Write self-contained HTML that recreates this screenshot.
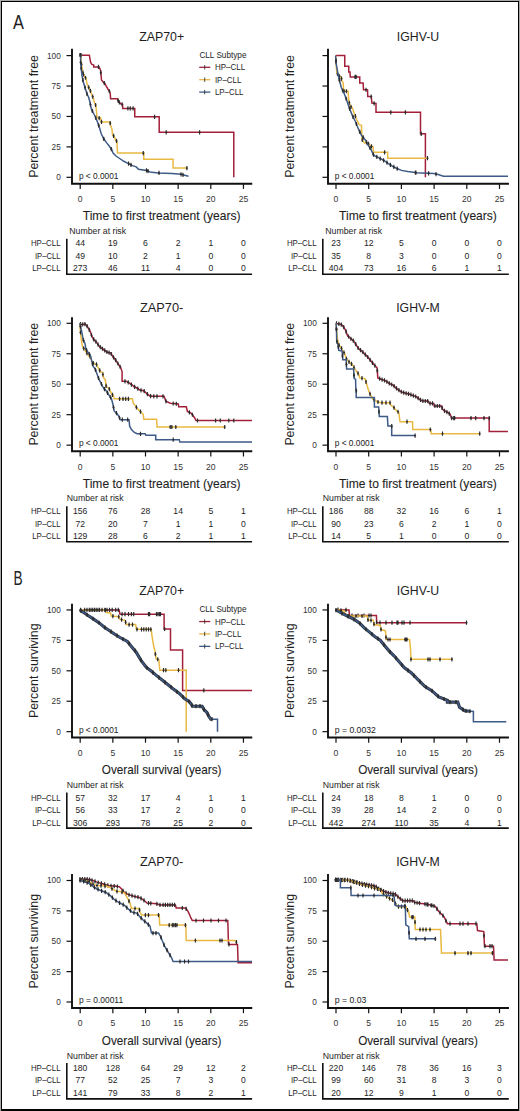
<!DOCTYPE html><html><head><meta charset="utf-8"><style>html,body{margin:0;padding:0;background:#fff;}svg{display:block;}</style></head><body>
<svg width="520" height="1111" viewBox="0 0 520 1111" font-family='"Liberation Sans", sans-serif'>
<rect x="0" y="0" width="520" height="1111" fill="#fff"/>
<rect x="0" y="0" width="520" height="1" fill="#a8a8a8"/><rect x="0" y="0" width="1" height="1111" fill="#a8a8a8"/><rect x="519" y="0" width="1" height="1111" fill="#a8a8a8"/>
<rect x="1" y="1" width="518" height="1" fill="#000"/><rect x="1" y="1" width="1" height="1110" fill="#000"/><rect x="518" y="1" width="1" height="1110" fill="#000"/><rect x="1" y="1109" width="518" height="2" fill="#000"/>
<text x="13.1" y="28.8" font-size="19.5" textLength="10.9" lengthAdjust="spacingAndGlyphs" fill="#1e1e1e">A</text>
<text x="13.6" y="584.8" font-size="19.5" textLength="9.1" lengthAdjust="spacingAndGlyphs" fill="#1e1e1e">B</text>
<text x="161.65" y="41.2" font-size="13.4" text-anchor="middle" textLength="45" lengthAdjust="spacingAndGlyphs" fill="#1e1e1e">ZAP70+</text>
<text transform="translate(38.3,116.45) rotate(-90)" font-size="13" text-anchor="middle" textLength="122.8" lengthAdjust="spacingAndGlyphs" fill="#1e1e1e">Percent treatment free</text>
<path d="M72,49.7 V183.7 H251.3" fill="none" stroke="#111" stroke-width="1.9" stroke-linejoin="miter" stroke-linecap="square"/>
<line x1="66.5" y1="177.3" x2="72" y2="177.3" stroke="#111" stroke-width="1.2"/>
<text x="60.8" y="180.2" font-size="8.3" text-anchor="end" fill="#333">0</text>
<line x1="66.5" y1="146.88" x2="72" y2="146.88" stroke="#111" stroke-width="1.2"/>
<text x="60.8" y="149.78" font-size="8.3" text-anchor="end" fill="#333">25</text>
<line x1="66.5" y1="116.45" x2="72" y2="116.45" stroke="#111" stroke-width="1.2"/>
<text x="60.8" y="119.35" font-size="8.3" text-anchor="end" fill="#333">50</text>
<line x1="66.5" y1="86.03" x2="72" y2="86.03" stroke="#111" stroke-width="1.2"/>
<text x="60.8" y="88.93" font-size="8.3" text-anchor="end" fill="#333">75</text>
<line x1="66.5" y1="55.6" x2="72" y2="55.6" stroke="#111" stroke-width="1.2"/>
<text x="60.8" y="58.5" font-size="8.3" text-anchor="end" fill="#333">100</text>
<line x1="80.2" y1="183.7" x2="80.2" y2="188.9" stroke="#111" stroke-width="1.2"/>
<text x="80.2" y="201.5" font-size="8.6" text-anchor="middle" fill="#333">0</text>
<line x1="112.85" y1="183.7" x2="112.85" y2="188.9" stroke="#111" stroke-width="1.2"/>
<text x="112.85" y="201.5" font-size="8.6" text-anchor="middle" fill="#333">5</text>
<line x1="145.5" y1="183.7" x2="145.5" y2="188.9" stroke="#111" stroke-width="1.2"/>
<text x="145.5" y="201.5" font-size="8.6" text-anchor="middle" fill="#333">10</text>
<line x1="178.15" y1="183.7" x2="178.15" y2="188.9" stroke="#111" stroke-width="1.2"/>
<text x="178.15" y="201.5" font-size="8.6" text-anchor="middle" fill="#333">15</text>
<line x1="210.8" y1="183.7" x2="210.8" y2="188.9" stroke="#111" stroke-width="1.2"/>
<text x="210.8" y="201.5" font-size="8.6" text-anchor="middle" fill="#333">20</text>
<line x1="243.45" y1="183.7" x2="243.45" y2="188.9" stroke="#111" stroke-width="1.2"/>
<text x="243.45" y="201.5" font-size="8.6" text-anchor="middle" fill="#333">25</text>
<text x="161.65" y="220" font-size="12.8" text-anchor="middle" textLength="157.8" lengthAdjust="spacingAndGlyphs" fill="#1e1e1e" stroke="#1e1e1e" stroke-width="0.1">Time to first treatment (years)</text>
<text x="78.9" y="178.6" font-size="9" textLength="39.6" lengthAdjust="spacingAndGlyphs" fill="#222">p &lt; 0.0001</text>
<text x="69.3" y="233.9" font-size="8.4" textLength="56.8" lengthAdjust="spacingAndGlyphs" fill="#1e1e1e">Number at risk</text>
<text x="60.5" y="246.2" font-size="8.6" text-anchor="end" textLength="29.6" lengthAdjust="spacingAndGlyphs" fill="#1e1e1e">HP–CLL</text>
<text x="80.2" y="246.2" font-size="8.6" text-anchor="middle" fill="#1e1e1e">44</text>
<text x="112.85" y="246.2" font-size="8.6" text-anchor="middle" fill="#1e1e1e">19</text>
<text x="145.5" y="246.2" font-size="8.6" text-anchor="middle" fill="#1e1e1e">6</text>
<text x="178.15" y="246.2" font-size="8.6" text-anchor="middle" fill="#1e1e1e">2</text>
<text x="210.8" y="246.2" font-size="8.6" text-anchor="middle" fill="#1e1e1e">1</text>
<text x="243.45" y="246.2" font-size="8.6" text-anchor="middle" fill="#1e1e1e">0</text>
<text x="60.5" y="258.5" font-size="8.6" text-anchor="end" textLength="25.6" lengthAdjust="spacingAndGlyphs" fill="#1e1e1e">IP–CLL</text>
<text x="80.2" y="258.5" font-size="8.6" text-anchor="middle" fill="#1e1e1e">49</text>
<text x="112.85" y="258.5" font-size="8.6" text-anchor="middle" fill="#1e1e1e">10</text>
<text x="145.5" y="258.5" font-size="8.6" text-anchor="middle" fill="#1e1e1e">2</text>
<text x="178.15" y="258.5" font-size="8.6" text-anchor="middle" fill="#1e1e1e">1</text>
<text x="210.8" y="258.5" font-size="8.6" text-anchor="middle" fill="#1e1e1e">0</text>
<text x="243.45" y="258.5" font-size="8.6" text-anchor="middle" fill="#1e1e1e">0</text>
<text x="60.5" y="271" font-size="8.6" text-anchor="end" textLength="28.3" lengthAdjust="spacingAndGlyphs" fill="#1e1e1e">LP–CLL</text>
<text x="80.2" y="271" font-size="8.6" text-anchor="middle" fill="#1e1e1e">273</text>
<text x="112.85" y="271" font-size="8.6" text-anchor="middle" fill="#1e1e1e">46</text>
<text x="145.5" y="271" font-size="8.6" text-anchor="middle" fill="#1e1e1e">11</text>
<text x="178.15" y="271" font-size="8.6" text-anchor="middle" fill="#1e1e1e">4</text>
<text x="210.8" y="271" font-size="8.6" text-anchor="middle" fill="#1e1e1e">0</text>
<text x="243.45" y="271" font-size="8.6" text-anchor="middle" fill="#1e1e1e">0</text>
<path d="M66.8,239.5 V274.2 H251.3" fill="none" stroke="#111" stroke-width="1.6" stroke-linecap="square"/>
<polyline points="80.6,55.3 89.4,55.3 89.75,57.5 90.6,62.5 91.9,64.4 93.75,65 93.75,66.9 98.75,66.9 100,68.75 100.6,70.6 101.5,80 103.1,81.9 105,83.75 106.25,86.25 107.75,88.75 109.4,91.25 110.25,93.1 110.6,98.75 117.5,98.75 118.1,100.6 119.4,102.5 120.6,103.75 122.5,104.4 122.75,108.4 134.75,108.4 134.75,116.85 159.2,116.85 159.2,132.3 233.8,132.3 233.8,177.3" fill="none" stroke="#a3203a" stroke-width="1.5" stroke-linejoin="miter"/>
<path d="M81.2,53.2v4.2M80.2,55.3h2M98.5,64.8v4.2M97.5,66.9h2M100.8,70.59v4.2M99.8,72.69h2M104.3,80.97v4.2M103.3,83.07h2M109.4,89.15v4.2M108.4,91.25h2M118.1,98.5v4.2M117.1,100.6h2M119.3,100.25v4.2M118.3,102.35h2M122.1,102.16v4.2M121.1,104.26h2M127.9,106.3v4.2M126.9,108.4h2M130.2,106.3v4.2M129.2,108.4h2M133.1,106.3v4.2M132.1,108.4h2M154.6,114.75v4.2M153.6,116.85h2M166.2,130.2v4.2M165.2,132.3h2M199.6,130.2v4.2M198.6,132.3h2" stroke="#2b2b2b" stroke-width="1.15" fill="none"/>
<polyline points="80.6,55 81.25,62.5 81.9,67.5 83.1,73.75 84.4,76.25 86.25,78.75 86.9,83.75 88.75,87.5 90.6,91.25 91.9,95 93.1,97.5 94.4,102.5 95.6,105 96.25,108.75 96.9,116.25 98.1,118.1 100.6,118.1 101.25,121.9 110,121.9 110.6,125.6 111.9,128.75 112.5,134.4 114.4,136.9 115.6,140 116.9,141.25 117.5,153.1 143.8,153.1 143.8,159.3 173.1,159.3 173.1,168.1 186.9,168.1" fill="none" stroke="#e9b943" stroke-width="1.5" stroke-linejoin="miter"/>
<path d="M80.2,52.9v4.2M79.2,55h2M81.5,62.32v4.2M80.5,64.42h2M82.9,70.61v4.2M81.9,72.71h2M83.5,72.42v4.2M82.5,74.52h2M85.5,75.64v4.2M84.5,77.74h2M88.7,85.3v4.2M87.7,87.4h2M90.4,88.74v4.2M89.4,90.84h2M92.7,94.57v4.2M91.7,96.67h2M95.6,102.9v4.2M94.6,105h2M99.2,116v4.2M98.2,118.1h2M101.5,119.8v4.2M100.5,121.9h2M110.2,121.03v4.2M109.2,123.13h2M113.6,133.75v4.2M112.6,135.85h2M116.5,138.77v4.2M115.5,140.87h2M143.3,151v4.2M142.3,153.1h2M186.9,166v4.2M185.9,168.1h2" stroke="#2b2b2b" stroke-width="1.15" fill="none"/>
<polyline points="80.6,55 80.6,62.5 81.25,68.75 81.9,75 83.1,81.25 85,87.5 86.9,93.75 88.75,97.5 90,102.5 91.25,108.75 93.75,113.75 95.6,117.5 97.5,121.9 99.4,127.5 101.25,133.75 103.75,138.75 106.9,143.1 109.4,146.25 111.9,150 113.1,153.1 116.25,156.25 120,158.75 123.75,161.25 127.5,163.1 132.5,165.6 136.25,166.9 138.5,169.2 146.5,170.4 150,172 158.1,172.9 171.9,173.4 181.2,174.3 184.6,175.2 188.5,176.2" fill="none" stroke="#3e5a86" stroke-width="1.5" stroke-linejoin="miter"/>
<path d="M80.2,52.9v4.2M79.2,55h2M80.6,60.4v4.2M79.6,62.5h2M81.2,66.17v4.2M80.2,68.27h2M82.9,78.11v4.2M81.9,80.21h2M85,85.4v4.2M84,87.5h2M87,91.85v4.2M86,93.95h2M90.4,102.4v4.2M89.4,104.5h2M92.3,108.75v4.2M91.3,110.85h2M95.8,115.86v4.2M94.8,117.96h2M98.7,123.34v4.2M97.7,125.44h2M103.8,136.72v4.2M102.8,138.82h2M111.3,147v4.2M110.3,149.1h2M128.6,161.55v4.2M127.6,163.65h2M131,162.75v4.2M130,164.85h2M146.5,168.3v4.2M145.5,170.4h2M148,168.99v4.2M147,171.09h2M159,170.83v4.2M158,172.93h2M181,172.18v4.2M180,174.28h2M183,172.68v4.2M182,174.78h2" stroke="#2b2b2b" stroke-width="1.15" fill="none"/>
<text x="418" y="41.2" font-size="13.4" text-anchor="middle" textLength="42.3" lengthAdjust="spacingAndGlyphs" fill="#1e1e1e">IGHV-U</text>
<text transform="translate(294.3,116.45) rotate(-90)" font-size="13" text-anchor="middle" textLength="122.8" lengthAdjust="spacingAndGlyphs" fill="#1e1e1e">Percent treatment free</text>
<path d="M328,49.7 V183.7 H508" fill="none" stroke="#111" stroke-width="1.9" stroke-linejoin="miter" stroke-linecap="square"/>
<line x1="322.5" y1="177.3" x2="328" y2="177.3" stroke="#111" stroke-width="1.2"/>
<line x1="322.5" y1="146.88" x2="328" y2="146.88" stroke="#111" stroke-width="1.2"/>
<line x1="322.5" y1="116.45" x2="328" y2="116.45" stroke="#111" stroke-width="1.2"/>
<line x1="322.5" y1="86.03" x2="328" y2="86.03" stroke="#111" stroke-width="1.2"/>
<line x1="322.5" y1="55.6" x2="328" y2="55.6" stroke="#111" stroke-width="1.2"/>
<line x1="336" y1="183.7" x2="336" y2="188.9" stroke="#111" stroke-width="1.2"/>
<text x="336" y="201.5" font-size="8.6" text-anchor="middle" fill="#333">0</text>
<line x1="368.7" y1="183.7" x2="368.7" y2="188.9" stroke="#111" stroke-width="1.2"/>
<text x="368.7" y="201.5" font-size="8.6" text-anchor="middle" fill="#333">5</text>
<line x1="401.4" y1="183.7" x2="401.4" y2="188.9" stroke="#111" stroke-width="1.2"/>
<text x="401.4" y="201.5" font-size="8.6" text-anchor="middle" fill="#333">10</text>
<line x1="434.1" y1="183.7" x2="434.1" y2="188.9" stroke="#111" stroke-width="1.2"/>
<text x="434.1" y="201.5" font-size="8.6" text-anchor="middle" fill="#333">15</text>
<line x1="466.8" y1="183.7" x2="466.8" y2="188.9" stroke="#111" stroke-width="1.2"/>
<text x="466.8" y="201.5" font-size="8.6" text-anchor="middle" fill="#333">20</text>
<line x1="499.5" y1="183.7" x2="499.5" y2="188.9" stroke="#111" stroke-width="1.2"/>
<text x="499.5" y="201.5" font-size="8.6" text-anchor="middle" fill="#333">25</text>
<text x="418" y="220" font-size="12.8" text-anchor="middle" textLength="157.8" lengthAdjust="spacingAndGlyphs" fill="#1e1e1e" stroke="#1e1e1e" stroke-width="0.1">Time to first treatment (years)</text>
<text x="334.7" y="178.6" font-size="9" textLength="39.6" lengthAdjust="spacingAndGlyphs" fill="#222">p &lt; 0.0001</text>
<text x="325.3" y="233.9" font-size="8.4" textLength="56.8" lengthAdjust="spacingAndGlyphs" fill="#1e1e1e">Number at risk</text>
<text x="316.5" y="246.2" font-size="8.6" text-anchor="end" textLength="29.6" lengthAdjust="spacingAndGlyphs" fill="#1e1e1e">HP–CLL</text>
<text x="336" y="246.2" font-size="8.6" text-anchor="middle" fill="#1e1e1e">23</text>
<text x="368.7" y="246.2" font-size="8.6" text-anchor="middle" fill="#1e1e1e">12</text>
<text x="401.4" y="246.2" font-size="8.6" text-anchor="middle" fill="#1e1e1e">5</text>
<text x="434.1" y="246.2" font-size="8.6" text-anchor="middle" fill="#1e1e1e">0</text>
<text x="466.8" y="246.2" font-size="8.6" text-anchor="middle" fill="#1e1e1e">0</text>
<text x="499.5" y="246.2" font-size="8.6" text-anchor="middle" fill="#1e1e1e">0</text>
<text x="316.5" y="258.5" font-size="8.6" text-anchor="end" textLength="25.6" lengthAdjust="spacingAndGlyphs" fill="#1e1e1e">IP–CLL</text>
<text x="336" y="258.5" font-size="8.6" text-anchor="middle" fill="#1e1e1e">35</text>
<text x="368.7" y="258.5" font-size="8.6" text-anchor="middle" fill="#1e1e1e">8</text>
<text x="401.4" y="258.5" font-size="8.6" text-anchor="middle" fill="#1e1e1e">3</text>
<text x="434.1" y="258.5" font-size="8.6" text-anchor="middle" fill="#1e1e1e">0</text>
<text x="466.8" y="258.5" font-size="8.6" text-anchor="middle" fill="#1e1e1e">0</text>
<text x="499.5" y="258.5" font-size="8.6" text-anchor="middle" fill="#1e1e1e">0</text>
<text x="316.5" y="271" font-size="8.6" text-anchor="end" textLength="28.3" lengthAdjust="spacingAndGlyphs" fill="#1e1e1e">LP–CLL</text>
<text x="336" y="271" font-size="8.6" text-anchor="middle" fill="#1e1e1e">404</text>
<text x="368.7" y="271" font-size="8.6" text-anchor="middle" fill="#1e1e1e">73</text>
<text x="401.4" y="271" font-size="8.6" text-anchor="middle" fill="#1e1e1e">16</text>
<text x="434.1" y="271" font-size="8.6" text-anchor="middle" fill="#1e1e1e">6</text>
<text x="466.8" y="271" font-size="8.6" text-anchor="middle" fill="#1e1e1e">1</text>
<text x="499.5" y="271" font-size="8.6" text-anchor="middle" fill="#1e1e1e">1</text>
<path d="M322.8,239.5 V274.2 H508" fill="none" stroke="#111" stroke-width="1.6" stroke-linecap="square"/>
<polyline points="335.6,55.6 344.75,55.6 344.75,66.25 348.75,66.25 348.75,71.9 350,71.9 350.25,76.9 359.75,76.9 359.75,83.1 363.1,83.1 363.5,89.75 367.5,89.75 367.75,96.5 371.25,96.5 371.9,103.1 376,103.5 376,112.3 420.5,112.3 420.5,133.8 425.4,133.8 425.4,177.2" fill="none" stroke="#a3203a" stroke-width="1.5" stroke-linejoin="miter"/>
<path d="M355.1,74.8v4.2M354.1,76.9h2M356.1,74.8v4.2M355.1,76.9h2M366,87.65v4.2M365,89.75h2M371.2,94.4v4.2M370.2,96.5h2M374.1,101.21v4.2M373.1,103.31h2M390.8,110.2v4.2M389.8,112.3h2M405.4,110.2v4.2M404.4,112.3h2M421.2,131.7v4.2M420.2,133.8h2" stroke="#2b2b2b" stroke-width="1.15" fill="none"/>
<polyline points="335.6,55.6 336.25,66.25 336.9,73.1 339.4,76.25 341.25,76.9 341.9,81.25 343.1,82.5 343.75,91.25 348.1,91.25 348.75,100 350,106.2 352.3,107.7 353.8,112.3 355.4,116.2 356.9,120 359.2,124.6 361.5,125.4 361.8,135.4 362.3,140 364.6,143.1 366.2,143.1 368.5,143.8 370.8,146.2 373.1,146.9 373.5,152.3 387.7,152.3 387.7,158.2 427.5,158.2" fill="none" stroke="#e9b943" stroke-width="1.5" stroke-linejoin="miter"/>
<path d="M336,60.05v4.2M335,62.15h2M337.5,71.76v4.2M336.5,73.86h2M339.5,74.19v4.2M338.5,76.29h2M341.5,76.47v4.2M340.5,78.57h2M344.1,89.15v4.2M343.1,91.25h2M346.4,89.15v4.2M345.4,91.25h2M349.3,100.63v4.2M348.3,102.73h2M351,104.75v4.2M350,106.85h2M355.4,114.1v4.2M354.4,116.2h2M362.3,137.9v4.2M361.3,140h2M368.5,141.7v4.2M367.5,143.8h2M371.5,144.31v4.2M370.5,146.41h2M384.6,150.2v4.2M383.6,152.3h2M427.5,156.1v4.2M426.5,158.2h2" stroke="#2b2b2b" stroke-width="1.15" fill="none"/>
<polyline points="335.6,55.6 336.25,63.75 337.5,71.25 338.75,77.5 340,82.5 341.25,87.5 343.75,92.5 346.2,98.75 349.2,107.7 352.3,115.4 355.4,121.5 358.5,129.2 361.5,135.4 365.4,140 367.7,144.6 370.8,149.2 373.8,155.4 378.5,157.7 383.1,160 387.7,163.1 392.3,166.2 396.9,168.5 401.5,170.4 407.7,171.5 413.8,172.3 416.2,172.7 433.8,173.6 438.1,174.5 443.4,176.2 508,176.2" fill="none" stroke="#3e5a86" stroke-width="1.5" stroke-linejoin="miter"/>
<path d="M336,58.52v4.2M335,60.62h2M339.4,78v4.2M338.4,80.1h2M342.8,88.5v4.2M341.8,90.6h2M346.2,96.65v4.2M345.2,98.75h2M349.6,106.59v4.2M348.6,108.69h2M353,114.68v4.2M352,116.78h2M356.4,121.88v4.2M355.4,123.98h2M359.8,129.79v4.2M358.8,131.89h2M363.2,135.31v4.2M362.2,137.41h2M366.6,140.3v4.2M365.6,142.4h2M370,145.91v4.2M369,148.01h2M373.4,152.47v4.2M372.4,154.57h2M376.8,154.77v4.2M375.8,156.87h2M380.2,156.45v4.2M379.2,158.55h2M383.6,158.24v4.2M382.6,160.34h2M387,160.53v4.2M386,162.63h2M390.4,162.82v4.2M389.4,164.92h2M393.8,164.85v4.2M392.8,166.95h2M397.2,166.52v4.2M396.2,168.62h2M415.4,170.47v4.2M414.4,172.57h2M415.9,170.55v4.2M414.9,172.65h2M428.6,171.23v4.2M427.6,173.33h2M436,171.96v4.2M435,174.06h2" stroke="#2b2b2b" stroke-width="1.15" fill="none"/>
<text x="161.65" y="311.7" font-size="13.4" text-anchor="middle" textLength="43.3" lengthAdjust="spacingAndGlyphs" fill="#1e1e1e">ZAP70-</text>
<text transform="translate(38.3,384.23) rotate(-90)" font-size="13" text-anchor="middle" textLength="122.8" lengthAdjust="spacingAndGlyphs" fill="#1e1e1e">Percent treatment free</text>
<path d="M72,318.3 V451.3 H251.3" fill="none" stroke="#111" stroke-width="1.9" stroke-linejoin="miter" stroke-linecap="square"/>
<line x1="66.5" y1="445.15" x2="72" y2="445.15" stroke="#111" stroke-width="1.2"/>
<text x="60.8" y="448.05" font-size="8.3" text-anchor="end" fill="#333">0</text>
<line x1="66.5" y1="414.69" x2="72" y2="414.69" stroke="#111" stroke-width="1.2"/>
<text x="60.8" y="417.59" font-size="8.3" text-anchor="end" fill="#333">25</text>
<line x1="66.5" y1="384.23" x2="72" y2="384.23" stroke="#111" stroke-width="1.2"/>
<text x="60.8" y="387.12" font-size="8.3" text-anchor="end" fill="#333">50</text>
<line x1="66.5" y1="353.76" x2="72" y2="353.76" stroke="#111" stroke-width="1.2"/>
<text x="60.8" y="356.66" font-size="8.3" text-anchor="end" fill="#333">75</text>
<line x1="66.5" y1="323.3" x2="72" y2="323.3" stroke="#111" stroke-width="1.2"/>
<text x="60.8" y="326.2" font-size="8.3" text-anchor="end" fill="#333">100</text>
<line x1="80.2" y1="451.3" x2="80.2" y2="456.5" stroke="#111" stroke-width="1.2"/>
<text x="80.2" y="469.7" font-size="8.6" text-anchor="middle" fill="#333">0</text>
<line x1="112.85" y1="451.3" x2="112.85" y2="456.5" stroke="#111" stroke-width="1.2"/>
<text x="112.85" y="469.7" font-size="8.6" text-anchor="middle" fill="#333">5</text>
<line x1="145.5" y1="451.3" x2="145.5" y2="456.5" stroke="#111" stroke-width="1.2"/>
<text x="145.5" y="469.7" font-size="8.6" text-anchor="middle" fill="#333">10</text>
<line x1="178.15" y1="451.3" x2="178.15" y2="456.5" stroke="#111" stroke-width="1.2"/>
<text x="178.15" y="469.7" font-size="8.6" text-anchor="middle" fill="#333">15</text>
<line x1="210.8" y1="451.3" x2="210.8" y2="456.5" stroke="#111" stroke-width="1.2"/>
<text x="210.8" y="469.7" font-size="8.6" text-anchor="middle" fill="#333">20</text>
<line x1="243.45" y1="451.3" x2="243.45" y2="456.5" stroke="#111" stroke-width="1.2"/>
<text x="243.45" y="469.7" font-size="8.6" text-anchor="middle" fill="#333">25</text>
<text x="161.65" y="488" font-size="12.8" text-anchor="middle" textLength="157.8" lengthAdjust="spacingAndGlyphs" fill="#1e1e1e" stroke="#1e1e1e" stroke-width="0.1">Time to first treatment (years)</text>
<text x="78.9" y="446.45" font-size="9" textLength="39.6" lengthAdjust="spacingAndGlyphs" fill="#222">p &lt; 0.0001</text>
<text x="66.8" y="501.3" font-size="8.4" textLength="56.8" lengthAdjust="spacingAndGlyphs" fill="#1e1e1e">Number at risk</text>
<text x="60.5" y="514.3" font-size="8.6" text-anchor="end" textLength="29.6" lengthAdjust="spacingAndGlyphs" fill="#1e1e1e">HP–CLL</text>
<text x="80.2" y="514.3" font-size="8.6" text-anchor="middle" fill="#1e1e1e">156</text>
<text x="112.85" y="514.3" font-size="8.6" text-anchor="middle" fill="#1e1e1e">76</text>
<text x="145.5" y="514.3" font-size="8.6" text-anchor="middle" fill="#1e1e1e">28</text>
<text x="178.15" y="514.3" font-size="8.6" text-anchor="middle" fill="#1e1e1e">14</text>
<text x="210.8" y="514.3" font-size="8.6" text-anchor="middle" fill="#1e1e1e">5</text>
<text x="243.45" y="514.3" font-size="8.6" text-anchor="middle" fill="#1e1e1e">1</text>
<text x="60.5" y="526.8" font-size="8.6" text-anchor="end" textLength="25.6" lengthAdjust="spacingAndGlyphs" fill="#1e1e1e">IP–CLL</text>
<text x="80.2" y="526.8" font-size="8.6" text-anchor="middle" fill="#1e1e1e">72</text>
<text x="112.85" y="526.8" font-size="8.6" text-anchor="middle" fill="#1e1e1e">20</text>
<text x="145.5" y="526.8" font-size="8.6" text-anchor="middle" fill="#1e1e1e">7</text>
<text x="178.15" y="526.8" font-size="8.6" text-anchor="middle" fill="#1e1e1e">1</text>
<text x="210.8" y="526.8" font-size="8.6" text-anchor="middle" fill="#1e1e1e">1</text>
<text x="243.45" y="526.8" font-size="8.6" text-anchor="middle" fill="#1e1e1e">0</text>
<text x="60.5" y="539.3" font-size="8.6" text-anchor="end" textLength="28.3" lengthAdjust="spacingAndGlyphs" fill="#1e1e1e">LP–CLL</text>
<text x="80.2" y="539.3" font-size="8.6" text-anchor="middle" fill="#1e1e1e">129</text>
<text x="112.85" y="539.3" font-size="8.6" text-anchor="middle" fill="#1e1e1e">28</text>
<text x="145.5" y="539.3" font-size="8.6" text-anchor="middle" fill="#1e1e1e">6</text>
<text x="178.15" y="539.3" font-size="8.6" text-anchor="middle" fill="#1e1e1e">2</text>
<text x="210.8" y="539.3" font-size="8.6" text-anchor="middle" fill="#1e1e1e">1</text>
<text x="243.45" y="539.3" font-size="8.6" text-anchor="middle" fill="#1e1e1e">1</text>
<path d="M66.8,507 V541.8 H251.3" fill="none" stroke="#111" stroke-width="1.6" stroke-linecap="square"/>
<polyline points="79.7,323.4 81.1,324.7 85.1,324.1 87.1,326.1 89.1,329.4 90.5,332.1 91.8,336.2 93.8,339.5 96.5,342.2 99.2,346.3 101.9,348.3 104.6,350.3 107.3,352.3 110.7,353 112.7,356.4 115.4,359.7 118.1,363.8 120.8,367.8 122.1,371.8 122.1,381.3 126.1,381.3 128.8,382.6 131.5,384.6 134.2,386.6 136.9,388 139.8,390.1 143.8,390.8 146.5,393.5 149.2,395.5 151.2,396.3 164.1,396.3 165.8,401.3 170.2,403.3 178.3,403.9 178.7,406.8 186.3,406.8 187.4,411.4 191.4,413.4 194.4,417.5 196,420.5 252,420.5" fill="none" stroke="#a3203a" stroke-width="1.5" stroke-linejoin="miter"/>
<path d="M80.5,322.04v4.2M79.5,324.14h2M82.7,322.36v4.2M81.7,324.46h2M84.9,322.03v4.2M83.9,324.13h2M87.1,324v4.2M86.1,326.1h2M89.3,327.69v4.2M88.3,329.79h2M91.5,333.15v4.2M90.5,335.25h2M93.7,337.24v4.2M92.7,339.34h2M95.9,339.5v4.2M94.9,341.6h2M98.1,342.53v4.2M97.1,344.63h2M100.3,345.01v4.2M99.3,347.11h2M102.5,346.64v4.2M101.5,348.74h2M104.7,348.27v4.2M103.7,350.37h2M106.9,349.9v4.2M105.9,352h2M109.1,350.57v4.2M108.1,352.67h2M111.3,351.92v4.2M110.3,354.02h2M113.5,355.28v4.2M112.5,357.38h2M115.7,358.06v4.2M114.7,360.16h2M117.9,361.4v4.2M116.9,363.5h2M120.1,364.66v4.2M119.1,366.76h2M125,379.2v4.2M124,381.3h2M128.2,380.21v4.2M127.2,382.31h2M131.4,382.43v4.2M130.4,384.53h2M134.6,384.71v4.2M133.6,386.81h2M137.8,386.55v4.2M136.8,388.65h2M141,388.21v4.2M140,390.31h2M144.2,389.1v4.2M143.2,391.2h2M147.4,392.07v4.2M146.4,394.17h2M150.6,393.96v4.2M149.6,396.06h2M153.8,394.2v4.2M152.8,396.3h2M157,394.2v4.2M156,396.3h2M163,394.2v4.2M162,396.3h2M166,399.29v4.2M165,401.39h2M173.2,401.42v4.2M172.2,403.52h2M176.3,401.65v4.2M175.3,403.75h2M189.4,410.3v4.2M188.4,412.4h2M192.4,412.67v4.2M191.4,414.77h2M197.5,418.4v4.2M196.5,420.5h2M215.6,418.4v4.2M214.6,420.5h2M220.3,418.4v4.2M219.3,420.5h2M228.8,418.4v4.2M227.8,420.5h2M233.8,418.4v4.2M232.8,420.5h2" stroke="#2b2b2b" stroke-width="1.15" fill="none"/>
<polyline points="79.7,323.4 80.4,331.5 81.1,338.2 82.4,346.3 85.8,351.6 88.5,355.7 90.5,357 91.8,361.1 93.8,363.8 96.5,364.4 98.6,368.5 100.6,371.8 102.6,372.5 103.3,377.2 105.3,379.9 106.2,386.7 108.8,388.1 110.2,390.8 111.5,393.5 113.6,396.2 114.2,398.8 132.4,398.8 133.1,402.9 135.1,405.6 137.1,408.3 139.8,411 143.2,414.3 143.8,419.3 156.6,419.3 157.1,427 224.7,427" fill="none" stroke="#e9b943" stroke-width="1.5" stroke-linejoin="miter"/>
<path d="M80.5,330.36v4.2M79.5,332.46h2M83.7,346.23v4.2M82.7,348.33h2M86.9,351.17v4.2M85.9,353.27h2M90.1,354.64v4.2M89.1,356.74h2M93.3,361.03v4.2M92.3,363.13h2M96.5,362.3v4.2M95.5,364.4h2M99.7,368.22v4.2M98.7,370.32h2M102.9,372.41v4.2M101.9,374.51h2M106.1,383.84v4.2M105.1,385.94h2M109.3,386.96v4.2M108.3,389.06h2M112.5,392.69v4.2M111.5,394.79h2M119.6,396.7v4.2M118.6,398.8h2M123,396.7v4.2M122,398.8h2M125.7,396.7v4.2M124.7,398.8h2M128.4,396.7v4.2M127.4,398.8h2M136.4,405.25v4.2M135.4,407.36h2M140.5,409.58v4.2M139.5,411.68h2M170.2,424.9v4.2M169.2,427h2M171.8,424.9v4.2M170.8,427h2M175.8,424.9v4.2M174.8,427h2M224.7,424.9v4.2M223.7,427h2" stroke="#2b2b2b" stroke-width="1.15" fill="none"/>
<polyline points="79.7,323.4 81.7,331.5 83.1,339.5 85.1,343.6 85.8,349 88.5,353 90.5,355.7 91.8,361.1 93.2,366.5 95.2,369.1 97.2,374.5 99.2,379.9 101.4,384 103.5,388.1 106.2,390.8 108.8,394.8 111.5,398.8 112.9,404.2 114.2,411 116.9,413.6 118.9,416.3 120.3,419.7 129,419.7 129.7,426.4 131.7,429.8 134.4,432.5 137.1,433.8 145.2,433.8 145.9,435.2 155.7,435.2 155.7,439.7 179.3,439.7 179.9,442.1 252,442.1" fill="none" stroke="#3e5a86" stroke-width="1.5" stroke-linejoin="miter"/>
<path d="M80.5,324.54v4.2M79.5,326.64h2M83.5,338.22v4.2M82.5,340.32h2M86.5,347.94v4.2M85.5,350.04h2M89.5,352.25v4.2M88.5,354.35h2M92.5,361.7v4.2M91.5,363.8h2M95.5,367.81v4.2M94.5,369.91h2M98.5,375.91v4.2M97.5,378.01h2M101.5,382.1v4.2M100.5,384.2h2M104.5,387v4.2M103.5,389.1h2M107.5,390.7v4.2M106.5,392.8h2M110.5,395.22v4.2M109.5,397.32h2M113.5,405.24v4.2M112.5,407.34h2M116.5,411.11v4.2M115.5,413.21h2M119.5,415.66v4.2M118.5,417.76h2M122.3,417.6v4.2M121.3,419.7h2M127.7,417.6v4.2M126.7,419.7h2M140.5,431.7v4.2M139.5,433.8h2M173.2,437.6v4.2M172.2,439.7h2" stroke="#2b2b2b" stroke-width="1.15" fill="none"/>
<text x="418" y="311.7" font-size="13.4" text-anchor="middle" textLength="43.6" lengthAdjust="spacingAndGlyphs" fill="#1e1e1e">IGHV-M</text>
<text transform="translate(294.3,384.23) rotate(-90)" font-size="13" text-anchor="middle" textLength="122.8" lengthAdjust="spacingAndGlyphs" fill="#1e1e1e">Percent treatment free</text>
<path d="M328,318.3 V451.3 H508" fill="none" stroke="#111" stroke-width="1.9" stroke-linejoin="miter" stroke-linecap="square"/>
<line x1="322.5" y1="445.15" x2="328" y2="445.15" stroke="#111" stroke-width="1.2"/>
<text x="316.8" y="448.05" font-size="8.3" text-anchor="end" fill="#333">0</text>
<line x1="322.5" y1="414.69" x2="328" y2="414.69" stroke="#111" stroke-width="1.2"/>
<text x="316.8" y="417.59" font-size="8.3" text-anchor="end" fill="#333">25</text>
<line x1="322.5" y1="384.23" x2="328" y2="384.23" stroke="#111" stroke-width="1.2"/>
<text x="316.8" y="387.12" font-size="8.3" text-anchor="end" fill="#333">50</text>
<line x1="322.5" y1="353.76" x2="328" y2="353.76" stroke="#111" stroke-width="1.2"/>
<text x="316.8" y="356.66" font-size="8.3" text-anchor="end" fill="#333">75</text>
<line x1="322.5" y1="323.3" x2="328" y2="323.3" stroke="#111" stroke-width="1.2"/>
<text x="316.8" y="326.2" font-size="8.3" text-anchor="end" fill="#333">100</text>
<line x1="336" y1="451.3" x2="336" y2="456.5" stroke="#111" stroke-width="1.2"/>
<text x="336" y="469.7" font-size="8.6" text-anchor="middle" fill="#333">0</text>
<line x1="368.7" y1="451.3" x2="368.7" y2="456.5" stroke="#111" stroke-width="1.2"/>
<text x="368.7" y="469.7" font-size="8.6" text-anchor="middle" fill="#333">5</text>
<line x1="401.4" y1="451.3" x2="401.4" y2="456.5" stroke="#111" stroke-width="1.2"/>
<text x="401.4" y="469.7" font-size="8.6" text-anchor="middle" fill="#333">10</text>
<line x1="434.1" y1="451.3" x2="434.1" y2="456.5" stroke="#111" stroke-width="1.2"/>
<text x="434.1" y="469.7" font-size="8.6" text-anchor="middle" fill="#333">15</text>
<line x1="466.8" y1="451.3" x2="466.8" y2="456.5" stroke="#111" stroke-width="1.2"/>
<text x="466.8" y="469.7" font-size="8.6" text-anchor="middle" fill="#333">20</text>
<line x1="499.5" y1="451.3" x2="499.5" y2="456.5" stroke="#111" stroke-width="1.2"/>
<text x="499.5" y="469.7" font-size="8.6" text-anchor="middle" fill="#333">25</text>
<text x="418" y="488" font-size="12.8" text-anchor="middle" textLength="157.8" lengthAdjust="spacingAndGlyphs" fill="#1e1e1e" stroke="#1e1e1e" stroke-width="0.1">Time to first treatment (years)</text>
<text x="334.7" y="446.45" font-size="9" textLength="39.6" lengthAdjust="spacingAndGlyphs" fill="#222">p &lt; 0.0001</text>
<text x="322.8" y="501.3" font-size="8.4" textLength="56.8" lengthAdjust="spacingAndGlyphs" fill="#1e1e1e">Number at risk</text>
<text x="316.5" y="514.3" font-size="8.6" text-anchor="end" textLength="29.6" lengthAdjust="spacingAndGlyphs" fill="#1e1e1e">HP–CLL</text>
<text x="336" y="514.3" font-size="8.6" text-anchor="middle" fill="#1e1e1e">186</text>
<text x="368.7" y="514.3" font-size="8.6" text-anchor="middle" fill="#1e1e1e">88</text>
<text x="401.4" y="514.3" font-size="8.6" text-anchor="middle" fill="#1e1e1e">32</text>
<text x="434.1" y="514.3" font-size="8.6" text-anchor="middle" fill="#1e1e1e">16</text>
<text x="466.8" y="514.3" font-size="8.6" text-anchor="middle" fill="#1e1e1e">6</text>
<text x="499.5" y="514.3" font-size="8.6" text-anchor="middle" fill="#1e1e1e">1</text>
<text x="316.5" y="526.8" font-size="8.6" text-anchor="end" textLength="25.6" lengthAdjust="spacingAndGlyphs" fill="#1e1e1e">IP–CLL</text>
<text x="336" y="526.8" font-size="8.6" text-anchor="middle" fill="#1e1e1e">90</text>
<text x="368.7" y="526.8" font-size="8.6" text-anchor="middle" fill="#1e1e1e">23</text>
<text x="401.4" y="526.8" font-size="8.6" text-anchor="middle" fill="#1e1e1e">6</text>
<text x="434.1" y="526.8" font-size="8.6" text-anchor="middle" fill="#1e1e1e">2</text>
<text x="466.8" y="526.8" font-size="8.6" text-anchor="middle" fill="#1e1e1e">1</text>
<text x="499.5" y="526.8" font-size="8.6" text-anchor="middle" fill="#1e1e1e">0</text>
<text x="316.5" y="539.3" font-size="8.6" text-anchor="end" textLength="28.3" lengthAdjust="spacingAndGlyphs" fill="#1e1e1e">LP–CLL</text>
<text x="336" y="539.3" font-size="8.6" text-anchor="middle" fill="#1e1e1e">14</text>
<text x="368.7" y="539.3" font-size="8.6" text-anchor="middle" fill="#1e1e1e">5</text>
<text x="401.4" y="539.3" font-size="8.6" text-anchor="middle" fill="#1e1e1e">1</text>
<text x="434.1" y="539.3" font-size="8.6" text-anchor="middle" fill="#1e1e1e">0</text>
<text x="466.8" y="539.3" font-size="8.6" text-anchor="middle" fill="#1e1e1e">0</text>
<text x="499.5" y="539.3" font-size="8.6" text-anchor="middle" fill="#1e1e1e">0</text>
<path d="M322.8,507 V541.8 H508" fill="none" stroke="#111" stroke-width="1.6" stroke-linecap="square"/>
<polyline points="336.1,323.4 340.8,324.1 343.5,326.7 345.5,330.1 347.5,335.5 350.2,338.2 353.6,340.9 356.2,344.9 358.3,348.3 362.3,351.6 365,354.3 368.4,357.7 371,361.1 374.4,365.1 377.1,367.8 377.8,377.9 381.1,379.2 385.2,380.6 389.2,383.3 393.3,385.3 396.9,388.8 402.1,392.3 409,394 416,396.6 421.7,400.8 427.8,401.1 429.5,403.4 433.8,403.4 434.2,406 441.6,406 442.5,409.4 445.1,411.2 448.6,412.9 450.3,414.6 451.5,418.1 489.2,418.1 489.2,431.6 507.9,431.6" fill="none" stroke="#a3203a" stroke-width="1.5" stroke-linejoin="miter"/>
<path d="M336.5,321.36v4.2M335.5,323.46h2M338.9,321.72v4.2M337.9,323.82h2M341.3,322.48v4.2M340.3,324.58h2M343.7,324.94v4.2M342.7,327.04h2M346.1,329.62v4.2M345.1,331.72h2M348.5,334.4v4.2M347.5,336.5h2M350.9,336.66v4.2M349.9,338.76h2M353.3,338.56v4.2M352.3,340.66h2M355.7,342.03v4.2M354.7,344.13h2M358.1,345.88v4.2M357.1,347.98h2M360.5,348.01v4.2M359.5,350.11h2M362.9,350.1v4.2M361.9,352.2h2M365.3,352.5v4.2M364.3,354.6h2M367.7,354.9v4.2M366.7,357h2M370.1,357.82v4.2M369.1,359.92h2M372.5,360.76v4.2M371.5,362.86h2M374.9,363.5v4.2M373.9,365.6h2M377.3,368.59v4.2M376.3,370.69h2M379.7,376.55v4.2M378.7,378.65h2M382.1,377.44v4.2M381.1,379.54h2M384.5,378.26v4.2M383.5,380.36h2M386.9,379.65v4.2M385.9,381.75h2M389.3,381.25v4.2M388.3,383.35h2M391.7,382.42v4.2M390.7,384.52h2M394.1,383.98v4.2M393.1,386.08h2M396.5,386.31v4.2M395.5,388.41h2M398.9,388.05v4.2M397.9,390.15h2M401.3,389.66v4.2M400.3,391.76h2M403.7,390.59v4.2M402.7,392.69h2M406.1,391.19v4.2M405.1,393.29h2M408.5,391.78v4.2M407.5,393.88h2M410.9,392.61v4.2M409.9,394.71h2M413.3,393.5v4.2M412.3,395.6h2M415.7,394.39v4.2M414.7,396.49h2M418.1,396.05v4.2M417.1,398.15h2M420.5,397.82v4.2M419.5,399.92h2M422.9,398.76v4.2M421.9,400.86h2M425.3,398.88v4.2M424.3,400.98h2M427.7,399v4.2M426.7,401.1h2M430.1,401.3v4.2M429.1,403.4h2M432.5,401.3v4.2M431.5,403.4h2M434.9,403.9v4.2M433.9,406h2M437.3,403.9v4.2M436.3,406h2M439.7,403.9v4.2M438.7,406h2M442.1,405.79v4.2M441.1,407.89h2M444.5,408.68v4.2M443.5,410.78h2M446.9,409.97v4.2M445.9,412.07h2M449.3,411.5v4.2M448.3,413.6h2M451.7,416v4.2M450.7,418.1h2M453.75,416v4.2M452.75,418.1h2M454.6,416v4.2M453.6,418.1h2M471,416v4.2M470,418.1h2M475.7,416v4.2M474.7,418.1h2M484,416v4.2M483,418.1h2M489.2,416v4.2M488.2,418.1h2" stroke="#2b2b2b" stroke-width="1.15" fill="none"/>
<polyline points="336.1,323.4 336.7,331.5 337.4,338.2 338.7,344.9 340.8,346.9 342.8,351 344.8,353.7 346.2,358.4 349.5,362.4 352.2,364.4 354.2,367.8 356.9,371.8 358.9,374.5 359.6,377.9 365,378.6 366.6,383.7 367.5,387.1 369.2,392.3 371,395.8 372.7,399.2 375.3,400.1 377,401.8 381.3,402.7 390,402.7 390.9,405.3 393.5,407 396.1,410.5 398.7,412.2 400,421.7 412.5,421.7 412.8,429.5 430.7,429.5 431.2,433.7 479.7,433.7" fill="none" stroke="#e9b943" stroke-width="1.5" stroke-linejoin="miter"/>
<path d="M336.5,326.7v4.2M335.5,328.8h2M339,343.09v4.2M338,345.19h2M341.5,346.23v4.2M340.5,348.33h2M344,350.52v4.2M343,352.62h2M346.5,356.66v4.2M345.5,358.76h2M349,359.69v4.2M348,361.79h2M351.5,361.78v4.2M350.5,363.88h2M354,365.36v4.2M353,367.46h2M358,371.19v4.2M357,373.29h2M362,376.11v4.2M361,378.21h2M366,379.69v4.2M365,381.79h2M370,391.76v4.2M369,393.86h2M374,397.55v4.2M373,399.65h2M378,399.91v4.2M377,402.01h2M382,400.6v4.2M381,402.7h2M386,400.6v4.2M385,402.7h2M390,400.6v4.2M389,402.7h2M394,405.57v4.2M393,407.67h2M398,409.64v4.2M397,411.74h2M407,419.6v4.2M406,421.7h2M430.3,427.4v4.2M429.3,429.5h2M442.5,431.6v4.2M441.5,433.7h2M479.7,431.6v4.2M478.7,433.7h2" stroke="#2b2b2b" stroke-width="1.15" fill="none"/>
<polyline points="336.1,323.4 336.5,331.5 336.7,340.9 338.1,344.9 338.7,350.3 342.1,351 342.8,359.7 346.2,359.7 346.6,369.1 353.6,369.1 354.2,378.6 355.6,379.2 355.8,388.8 356.2,390.6 356.2,397.5 374.4,397.5 374.4,407 378.7,407 379.3,416.5 387.4,416.5 387.9,426.1 391.7,426.1 391.7,435.6 415.1,435.6" fill="none" stroke="#3e5a86" stroke-width="1.5" stroke-linejoin="miter"/>
<path d="M336.4,327.37v4.2M335.4,329.47h2M337,339.66v4.2M336,341.76h2M338.3,344.6v4.2M337.3,346.7h2M342.5,353.87v4.2M341.5,355.97h2M346.4,362.3v4.2M345.4,364.4h2M354,373.33v4.2M353,375.43h2M356.2,388.5v4.2M355.2,390.6h2M379,409.65v4.2M378,411.75h2M391.7,424v4.2M390.7,426.1h2M415.1,433.5v4.2M414.1,435.6h2" stroke="#2b2b2b" stroke-width="1.15" fill="none"/>
<text x="161.65" y="595.45" font-size="13.4" text-anchor="middle" textLength="45" lengthAdjust="spacingAndGlyphs" fill="#1e1e1e">ZAP70+</text>
<text transform="translate(38.3,670.8) rotate(-90)" font-size="13" text-anchor="middle" textLength="94.6" lengthAdjust="spacingAndGlyphs" fill="#1e1e1e">Percent surviving</text>
<path d="M72,604.6 V737.5 H251.3" fill="none" stroke="#111" stroke-width="1.9" stroke-linejoin="miter" stroke-linecap="square"/>
<line x1="66.5" y1="731.65" x2="72" y2="731.65" stroke="#111" stroke-width="1.2"/>
<text x="60.8" y="734.55" font-size="8.3" text-anchor="end" fill="#333">0</text>
<line x1="66.5" y1="701.23" x2="72" y2="701.23" stroke="#111" stroke-width="1.2"/>
<text x="60.8" y="704.12" font-size="8.3" text-anchor="end" fill="#333">25</text>
<line x1="66.5" y1="670.8" x2="72" y2="670.8" stroke="#111" stroke-width="1.2"/>
<text x="60.8" y="673.7" font-size="8.3" text-anchor="end" fill="#333">50</text>
<line x1="66.5" y1="640.38" x2="72" y2="640.38" stroke="#111" stroke-width="1.2"/>
<text x="60.8" y="643.27" font-size="8.3" text-anchor="end" fill="#333">75</text>
<line x1="66.5" y1="609.95" x2="72" y2="609.95" stroke="#111" stroke-width="1.2"/>
<text x="60.8" y="612.85" font-size="8.3" text-anchor="end" fill="#333">100</text>
<line x1="80.2" y1="737.5" x2="80.2" y2="742.7" stroke="#111" stroke-width="1.2"/>
<text x="80.2" y="755.8" font-size="8.6" text-anchor="middle" fill="#333">0</text>
<line x1="112.85" y1="737.5" x2="112.85" y2="742.7" stroke="#111" stroke-width="1.2"/>
<text x="112.85" y="755.8" font-size="8.6" text-anchor="middle" fill="#333">5</text>
<line x1="145.5" y1="737.5" x2="145.5" y2="742.7" stroke="#111" stroke-width="1.2"/>
<text x="145.5" y="755.8" font-size="8.6" text-anchor="middle" fill="#333">10</text>
<line x1="178.15" y1="737.5" x2="178.15" y2="742.7" stroke="#111" stroke-width="1.2"/>
<text x="178.15" y="755.8" font-size="8.6" text-anchor="middle" fill="#333">15</text>
<line x1="210.8" y1="737.5" x2="210.8" y2="742.7" stroke="#111" stroke-width="1.2"/>
<text x="210.8" y="755.8" font-size="8.6" text-anchor="middle" fill="#333">20</text>
<line x1="243.45" y1="737.5" x2="243.45" y2="742.7" stroke="#111" stroke-width="1.2"/>
<text x="243.45" y="755.8" font-size="8.6" text-anchor="middle" fill="#333">25</text>
<text x="161.65" y="774.3" font-size="12.8" text-anchor="middle" textLength="119.7" lengthAdjust="spacingAndGlyphs" fill="#1e1e1e" stroke="#1e1e1e" stroke-width="0.1">Overall survival (years)</text>
<text x="78.9" y="732.95" font-size="9" textLength="39.6" lengthAdjust="spacingAndGlyphs" fill="#222">p &lt; 0.0001</text>
<text x="66.8" y="788" font-size="8.4" textLength="56.8" lengthAdjust="spacingAndGlyphs" fill="#1e1e1e">Number at risk</text>
<text x="60.5" y="800.5" font-size="8.6" text-anchor="end" textLength="29.6" lengthAdjust="spacingAndGlyphs" fill="#1e1e1e">HP–CLL</text>
<text x="80.2" y="800.5" font-size="8.6" text-anchor="middle" fill="#1e1e1e">57</text>
<text x="112.85" y="800.5" font-size="8.6" text-anchor="middle" fill="#1e1e1e">32</text>
<text x="145.5" y="800.5" font-size="8.6" text-anchor="middle" fill="#1e1e1e">17</text>
<text x="178.15" y="800.5" font-size="8.6" text-anchor="middle" fill="#1e1e1e">4</text>
<text x="210.8" y="800.5" font-size="8.6" text-anchor="middle" fill="#1e1e1e">1</text>
<text x="243.45" y="800.5" font-size="8.6" text-anchor="middle" fill="#1e1e1e">1</text>
<text x="60.5" y="813" font-size="8.6" text-anchor="end" textLength="25.6" lengthAdjust="spacingAndGlyphs" fill="#1e1e1e">IP–CLL</text>
<text x="80.2" y="813" font-size="8.6" text-anchor="middle" fill="#1e1e1e">56</text>
<text x="112.85" y="813" font-size="8.6" text-anchor="middle" fill="#1e1e1e">33</text>
<text x="145.5" y="813" font-size="8.6" text-anchor="middle" fill="#1e1e1e">17</text>
<text x="178.15" y="813" font-size="8.6" text-anchor="middle" fill="#1e1e1e">2</text>
<text x="210.8" y="813" font-size="8.6" text-anchor="middle" fill="#1e1e1e">0</text>
<text x="243.45" y="813" font-size="8.6" text-anchor="middle" fill="#1e1e1e">0</text>
<text x="60.5" y="825.5" font-size="8.6" text-anchor="end" textLength="28.3" lengthAdjust="spacingAndGlyphs" fill="#1e1e1e">LP–CLL</text>
<text x="80.2" y="825.5" font-size="8.6" text-anchor="middle" fill="#1e1e1e">306</text>
<text x="112.85" y="825.5" font-size="8.6" text-anchor="middle" fill="#1e1e1e">293</text>
<text x="145.5" y="825.5" font-size="8.6" text-anchor="middle" fill="#1e1e1e">78</text>
<text x="178.15" y="825.5" font-size="8.6" text-anchor="middle" fill="#1e1e1e">25</text>
<text x="210.8" y="825.5" font-size="8.6" text-anchor="middle" fill="#1e1e1e">2</text>
<text x="243.45" y="825.5" font-size="8.6" text-anchor="middle" fill="#1e1e1e">0</text>
<path d="M66.8,793.3 V828.1 H251.3" fill="none" stroke="#111" stroke-width="1.6" stroke-linecap="square"/>
<polyline points="79.3,609.9 119.1,609.9 120,614.2 164.1,614.2 164.1,629 170.5,629 170.5,650 182.6,650 182.6,690.4 252,690.4" fill="none" stroke="#a3203a" stroke-width="1.5" stroke-linejoin="miter"/>
<path d="M107,607.8v4.2M106,609.9h2M109.6,607.8v4.2M108.6,609.9h2M112.2,607.8v4.2M111.2,609.9h2M115.7,607.8v4.2M114.7,609.9h2M118.3,607.8v4.2M117.3,609.9h2M122.1,612.1v4.2M121.1,614.2h2M125,612.1v4.2M124,614.2h2M128.5,612.1v4.2M127.5,614.2h2M131.4,612.1v4.2M130.4,614.2h2M133.7,612.1v4.2M132.7,614.2h2M148.5,612.1v4.2M147.5,614.2h2M149.6,612.1v4.2M148.6,614.2h2M156.5,612.1v4.2M155.5,614.2h2M158,612.1v4.2M157,614.2h2M159.5,612.1v4.2M158.5,614.2h2M160.5,612.1v4.2M159.5,614.2h2M164.6,626.9v4.2M163.6,629h2M203.8,688.3v4.2M202.8,690.4h2" stroke="#2b2b2b" stroke-width="1.15" fill="none"/>
<polyline points="79.3,609.9 105.3,609.9 106.2,612.5 110.5,613 111.3,616 119.1,616.8 120,619.4 125.2,620.3 126.1,624.6 135.6,624.6 136.4,629.3 151.2,629.3 152,635.9 153.7,646.3 155,651 156,658.7 158.8,659.6 159.8,670.2 186.2,670.2 186.2,731.7" fill="none" stroke="#e9b943" stroke-width="1.5" stroke-linejoin="miter"/>
<path d="M80.6,607.8v4.2M79.6,609.9h2M84.7,607.8v4.2M83.7,609.9h2M87,607.8v4.2M86,609.9h2M89.3,607.8v4.2M88.3,609.9h2M91,607.8v4.2M90,609.9h2M92.7,607.8v4.2M91.7,609.9h2M94.5,607.8v4.2M93.5,609.9h2M96.2,607.8v4.2M95.2,609.9h2M97.9,607.8v4.2M96.9,609.9h2M99.6,607.8v4.2M98.6,609.9h2M102,607.8v4.2M101,609.9h2M104.8,607.8v4.2M103.8,609.9h2M105.4,608.09v4.2M104.4,610.19h2M112.9,614.06v4.2M111.9,616.16h2M118.7,614.66v4.2M117.7,616.76h2M121.6,617.58v4.2M120.6,619.68h2M125.6,620.11v4.2M124.6,622.21h2M129.1,622.5v4.2M128.1,624.6h2M132.5,622.5v4.2M131.5,624.6h2M137,627.2v4.2M136,629.3h2M141.5,627.2v4.2M140.5,629.3h2M143.8,627.2v4.2M142.8,629.3h2M146.2,627.2v4.2M145.2,629.3h2M148.5,627.2v4.2M147.5,629.3h2M150.8,627.2v4.2M149.8,629.3h2M155.4,651.98v4.2M154.4,654.08h2M157.7,657.15v4.2M156.7,659.25h2M163.5,668.1v4.2M162.5,670.2h2M165.8,668.1v4.2M164.8,670.2h2M178.5,668.1v4.2M177.5,670.2h2" stroke="#2b2b2b" stroke-width="1.15" fill="none"/>
<polyline points="80,610.31 83.7,612.5 88.8,616 94,619.4 99.2,622.9 104.4,627.2 109.6,630.7 114.8,634.2 120,637.5 127.4,641.5 131,646 136,651.9 141.2,660.6 146.4,667.5 151.2,671 155.1,674.4 163.7,681.3 172.4,688.3 179.3,693.5 184.5,698.6 189.6,701.9 192.5,706.2 202.1,706.2 204,709.6 206.9,712.5 208.8,716.3 210.8,719.2 212,719.2" fill="none" stroke="#2c303c" stroke-width="3.1" stroke-linejoin="miter"/>
<polyline points="79.3,609.9 83.7,612.5 88.8,616 94,619.4 99.2,622.9 104.4,627.2 109.6,630.7 114.8,634.2 120,637.5 127.4,641.5 131,646 136,651.9 141.2,660.6 146.4,667.5 151.2,671 155.1,674.4 163.7,681.3 172.4,688.3 179.3,693.5 184.5,698.6 189.6,701.9 192.5,706.2 202.1,706.2 204,709.6 206.9,712.5 208.8,716.3 210.8,719.2 217.5,719.2 217.5,731.7" fill="none" stroke="#3e5a86" stroke-width="1.5" stroke-linejoin="miter"/>
<path d="M81,608.8v4.2M80,610.9h2M87,612.66v4.2M86,614.76h2M93,616.65v4.2M92,618.75h2M99,620.67v4.2M98,622.77h2M105,625.5v4.2M104,627.6h2M111,629.54v4.2M110,631.64h2M117,633.5v4.2M116,635.6h2M123,637.02v4.2M122,639.12h2M129,641.4v4.2M128,643.5h2M135,648.62v4.2M134,650.72h2M141,658.17v4.2M140,660.27h2M147,665.84v4.2M146,667.94h2M153,670.47v4.2M152,672.57h2M159,675.43v4.2M158,677.53h2M165,680.25v4.2M164,682.35h2M171,685.07v4.2M170,687.17h2M177,689.67v4.2M176,691.77h2M183,695.03v4.2M182,697.13h2M189,699.41v4.2M188,701.51h2M192,703.36v4.2M191,705.46h2M196,704.1v4.2M195,706.2h2M200,704.1v4.2M199,706.2h2M204,707.5v4.2M203,709.6h2M208,712.6v4.2M207,714.7h2M212,717.1v4.2M211,719.2h2" stroke="#2b2b2b" stroke-width="1.15" fill="none"/>
<text x="418" y="595.45" font-size="13.4" text-anchor="middle" textLength="42.3" lengthAdjust="spacingAndGlyphs" fill="#1e1e1e">IGHV-U</text>
<text transform="translate(294.3,670.8) rotate(-90)" font-size="13" text-anchor="middle" textLength="94.6" lengthAdjust="spacingAndGlyphs" fill="#1e1e1e">Percent surviving</text>
<path d="M328,604.6 V737.5 H508" fill="none" stroke="#111" stroke-width="1.9" stroke-linejoin="miter" stroke-linecap="square"/>
<line x1="322.5" y1="731.65" x2="328" y2="731.65" stroke="#111" stroke-width="1.2"/>
<text x="316.8" y="734.55" font-size="8.3" text-anchor="end" fill="#333">0</text>
<line x1="322.5" y1="701.23" x2="328" y2="701.23" stroke="#111" stroke-width="1.2"/>
<text x="316.8" y="704.12" font-size="8.3" text-anchor="end" fill="#333">25</text>
<line x1="322.5" y1="670.8" x2="328" y2="670.8" stroke="#111" stroke-width="1.2"/>
<text x="316.8" y="673.7" font-size="8.3" text-anchor="end" fill="#333">50</text>
<line x1="322.5" y1="640.38" x2="328" y2="640.38" stroke="#111" stroke-width="1.2"/>
<text x="316.8" y="643.27" font-size="8.3" text-anchor="end" fill="#333">75</text>
<line x1="322.5" y1="609.95" x2="328" y2="609.95" stroke="#111" stroke-width="1.2"/>
<text x="316.8" y="612.85" font-size="8.3" text-anchor="end" fill="#333">100</text>
<line x1="336" y1="737.5" x2="336" y2="742.7" stroke="#111" stroke-width="1.2"/>
<text x="336" y="755.8" font-size="8.6" text-anchor="middle" fill="#333">0</text>
<line x1="368.7" y1="737.5" x2="368.7" y2="742.7" stroke="#111" stroke-width="1.2"/>
<text x="368.7" y="755.8" font-size="8.6" text-anchor="middle" fill="#333">5</text>
<line x1="401.4" y1="737.5" x2="401.4" y2="742.7" stroke="#111" stroke-width="1.2"/>
<text x="401.4" y="755.8" font-size="8.6" text-anchor="middle" fill="#333">10</text>
<line x1="434.1" y1="737.5" x2="434.1" y2="742.7" stroke="#111" stroke-width="1.2"/>
<text x="434.1" y="755.8" font-size="8.6" text-anchor="middle" fill="#333">15</text>
<line x1="466.8" y1="737.5" x2="466.8" y2="742.7" stroke="#111" stroke-width="1.2"/>
<text x="466.8" y="755.8" font-size="8.6" text-anchor="middle" fill="#333">20</text>
<line x1="499.5" y1="737.5" x2="499.5" y2="742.7" stroke="#111" stroke-width="1.2"/>
<text x="499.5" y="755.8" font-size="8.6" text-anchor="middle" fill="#333">25</text>
<text x="418" y="774.3" font-size="12.8" text-anchor="middle" textLength="119.7" lengthAdjust="spacingAndGlyphs" fill="#1e1e1e" stroke="#1e1e1e" stroke-width="0.1">Overall survival (years)</text>
<text x="334.7" y="732.95" font-size="9" textLength="41.2" lengthAdjust="spacingAndGlyphs" fill="#222">p = 0.0032</text>
<text x="322.8" y="788" font-size="8.4" textLength="56.8" lengthAdjust="spacingAndGlyphs" fill="#1e1e1e">Number at risk</text>
<text x="316.5" y="800.5" font-size="8.6" text-anchor="end" textLength="29.6" lengthAdjust="spacingAndGlyphs" fill="#1e1e1e">HP–CLL</text>
<text x="336" y="800.5" font-size="8.6" text-anchor="middle" fill="#1e1e1e">24</text>
<text x="368.7" y="800.5" font-size="8.6" text-anchor="middle" fill="#1e1e1e">18</text>
<text x="401.4" y="800.5" font-size="8.6" text-anchor="middle" fill="#1e1e1e">8</text>
<text x="434.1" y="800.5" font-size="8.6" text-anchor="middle" fill="#1e1e1e">1</text>
<text x="466.8" y="800.5" font-size="8.6" text-anchor="middle" fill="#1e1e1e">0</text>
<text x="499.5" y="800.5" font-size="8.6" text-anchor="middle" fill="#1e1e1e">0</text>
<text x="316.5" y="813" font-size="8.6" text-anchor="end" textLength="25.6" lengthAdjust="spacingAndGlyphs" fill="#1e1e1e">IP–CLL</text>
<text x="336" y="813" font-size="8.6" text-anchor="middle" fill="#1e1e1e">39</text>
<text x="368.7" y="813" font-size="8.6" text-anchor="middle" fill="#1e1e1e">28</text>
<text x="401.4" y="813" font-size="8.6" text-anchor="middle" fill="#1e1e1e">14</text>
<text x="434.1" y="813" font-size="8.6" text-anchor="middle" fill="#1e1e1e">2</text>
<text x="466.8" y="813" font-size="8.6" text-anchor="middle" fill="#1e1e1e">0</text>
<text x="499.5" y="813" font-size="8.6" text-anchor="middle" fill="#1e1e1e">0</text>
<text x="316.5" y="825.5" font-size="8.6" text-anchor="end" textLength="28.3" lengthAdjust="spacingAndGlyphs" fill="#1e1e1e">LP–CLL</text>
<text x="336" y="825.5" font-size="8.6" text-anchor="middle" fill="#1e1e1e">442</text>
<text x="368.7" y="825.5" font-size="8.6" text-anchor="middle" fill="#1e1e1e">274</text>
<text x="401.4" y="825.5" font-size="8.6" text-anchor="middle" fill="#1e1e1e">110</text>
<text x="434.1" y="825.5" font-size="8.6" text-anchor="middle" fill="#1e1e1e">35</text>
<text x="466.8" y="825.5" font-size="8.6" text-anchor="middle" fill="#1e1e1e">4</text>
<text x="499.5" y="825.5" font-size="8.6" text-anchor="middle" fill="#1e1e1e">1</text>
<path d="M322.8,793.3 V828.1 H508" fill="none" stroke="#111" stroke-width="1.6" stroke-linecap="square"/>
<polyline points="335.2,609.6 346.4,609.9 349,609.9 349.4,615.5 376.4,615.5 376.7,622.7 466.5,622.7" fill="none" stroke="#a3203a" stroke-width="1.5" stroke-linejoin="miter"/>
<path d="M338,607.58v4.2M337,609.68h2M346,607.79v4.2M345,609.89h2M352,613.4v4.2M351,615.5h2M358,613.4v4.2M357,615.5h2M364,613.4v4.2M363,615.5h2M369,613.4v4.2M368,615.5h2M371,613.4v4.2M370,615.5h2M376.7,620.6v4.2M375.7,622.7h2M380,620.6v4.2M379,622.7h2M386,620.6v4.2M385,622.7h2M392,620.6v4.2M391,622.7h2M398,620.6v4.2M397,622.7h2M404,620.6v4.2M403,622.7h2M410,620.6v4.2M409,622.7h2M397,620.6v4.2M396,622.7h2M402,620.6v4.2M401,622.7h2M466.5,620.6v4.2M465.5,622.7h2" stroke="#2b2b2b" stroke-width="1.15" fill="none"/>
<polyline points="335.2,609.6 343.8,610.8 346.4,616 367.2,616 368.1,620.3 373.3,620.3 374.1,624.6 380.2,625.5 381.1,629.8 385.4,630.7 386.2,639.5 409.6,639.5 410.5,648.9 411,659.3 451.9,659.3" fill="none" stroke="#e9b943" stroke-width="1.5" stroke-linejoin="miter"/>
<path d="M341,608.31v4.2M340,610.41h2M349,613.9v4.2M348,616h2M356,613.9v4.2M355,616h2M362,613.9v4.2M361,616h2M368,617.72v4.2M367,619.82h2M371,618.2v4.2M370,620.3h2M374,621.96v4.2M373,624.06h2M381,627.22v4.2M380,629.32h2M386,635.2v4.2M385,637.3h2M388,637.4v4.2M387,639.5h2M390,637.4v4.2M389,639.5h2M405,637.4v4.2M404,639.5h2M406,637.4v4.2M405,639.5h2M407,637.4v4.2M406,639.5h2M411,657.2v4.2M410,659.3h2M428,657.2v4.2M427,659.3h2M430,657.2v4.2M429,659.3h2M440,657.2v4.2M439,659.3h2M451.9,657.2v4.2M450.9,659.3h2" stroke="#2b2b2b" stroke-width="1.15" fill="none"/>
<polyline points="335.5,609.77 340.4,612.5 347.3,616 354.2,619.4 359.4,622.9 364.6,628.1 369.8,632.4 375,636.7 380.2,640.2 383.7,644.5 388.8,650.6 394,655.8 399.2,661.8 404.2,667.5 411.1,672.7 418,679.6 425,686.5 431.8,690.7 438.8,696.9 447.4,700.4 447.4,702.1 457.8,702.1 459.5,707.3 464.7,710.8 470,711.23" fill="none" stroke="#2c303c" stroke-width="3.1" stroke-linejoin="miter"/>
<polyline points="335.2,609.6 340.4,612.5 347.3,616 354.2,619.4 359.4,622.9 364.6,628.1 369.8,632.4 375,636.7 380.2,640.2 383.7,644.5 388.8,650.6 394,655.8 399.2,661.8 404.2,667.5 411.1,672.7 418,679.6 425,686.5 431.8,690.7 438.8,696.9 447.4,700.4 447.4,702.1 457.8,702.1 459.5,707.3 464.7,710.8 473.4,711.5 473.4,721.8 506.3,721.8" fill="none" stroke="#3e5a86" stroke-width="1.5" stroke-linejoin="miter"/>
<path d="M336,607.95v4.2M335,610.05h2M342,611.21v4.2M341,613.31h2M348,614.24v4.2M347,616.34h2M354,617.2v4.2M353,619.3h2M360,621.4v4.2M359,623.5h2M366,627.16v4.2M365,629.26h2M372,632.12v4.2M371,634.22h2M378,636.62v4.2M377,638.72h2M384,642.76v4.2M383,644.86h2M390,649.7v4.2M389,651.8h2M396,656.01v4.2M395,658.11h2M402,662.89v4.2M401,664.99h2M408,668.26v4.2M407,670.36h2M414,673.5v4.2M413,675.6h2M420,679.47v4.2M419,681.57h2M426,685.02v4.2M425,687.12h2M432,688.78v4.2M431,690.88h2M438,694.09v4.2M437,696.19h2M444,696.92v4.2M443,699.02h2M450,700v4.2M449,702.1h2M456,700v4.2M455,702.1h2M463,707.56v4.2M462,709.66h2M466,708.8v4.2M465,710.9h2M470,709.13v4.2M469,711.23h2" stroke="#2b2b2b" stroke-width="1.15" fill="none"/>
<text x="161.65" y="865.8" font-size="13.4" text-anchor="middle" textLength="43.3" lengthAdjust="spacingAndGlyphs" fill="#1e1e1e">ZAP70-</text>
<text transform="translate(38.3,941.25) rotate(-90)" font-size="13" text-anchor="middle" textLength="94.6" lengthAdjust="spacingAndGlyphs" fill="#1e1e1e">Percent surviving</text>
<path d="M72,874.9 V1008 H251.3" fill="none" stroke="#111" stroke-width="1.9" stroke-linejoin="miter" stroke-linecap="square"/>
<line x1="66.5" y1="1002" x2="72" y2="1002" stroke="#111" stroke-width="1.2"/>
<text x="60.8" y="1004.9" font-size="8.3" text-anchor="end" fill="#333">0</text>
<line x1="66.5" y1="971.62" x2="72" y2="971.62" stroke="#111" stroke-width="1.2"/>
<text x="60.8" y="974.52" font-size="8.3" text-anchor="end" fill="#333">25</text>
<line x1="66.5" y1="941.25" x2="72" y2="941.25" stroke="#111" stroke-width="1.2"/>
<text x="60.8" y="944.15" font-size="8.3" text-anchor="end" fill="#333">50</text>
<line x1="66.5" y1="910.88" x2="72" y2="910.88" stroke="#111" stroke-width="1.2"/>
<text x="60.8" y="913.77" font-size="8.3" text-anchor="end" fill="#333">75</text>
<line x1="66.5" y1="880.5" x2="72" y2="880.5" stroke="#111" stroke-width="1.2"/>
<text x="60.8" y="883.4" font-size="8.3" text-anchor="end" fill="#333">100</text>
<line x1="80.2" y1="1008" x2="80.2" y2="1013.2" stroke="#111" stroke-width="1.2"/>
<text x="80.2" y="1026" font-size="8.6" text-anchor="middle" fill="#333">0</text>
<line x1="112.85" y1="1008" x2="112.85" y2="1013.2" stroke="#111" stroke-width="1.2"/>
<text x="112.85" y="1026" font-size="8.6" text-anchor="middle" fill="#333">5</text>
<line x1="145.5" y1="1008" x2="145.5" y2="1013.2" stroke="#111" stroke-width="1.2"/>
<text x="145.5" y="1026" font-size="8.6" text-anchor="middle" fill="#333">10</text>
<line x1="178.15" y1="1008" x2="178.15" y2="1013.2" stroke="#111" stroke-width="1.2"/>
<text x="178.15" y="1026" font-size="8.6" text-anchor="middle" fill="#333">15</text>
<line x1="210.8" y1="1008" x2="210.8" y2="1013.2" stroke="#111" stroke-width="1.2"/>
<text x="210.8" y="1026" font-size="8.6" text-anchor="middle" fill="#333">20</text>
<line x1="243.45" y1="1008" x2="243.45" y2="1013.2" stroke="#111" stroke-width="1.2"/>
<text x="243.45" y="1026" font-size="8.6" text-anchor="middle" fill="#333">25</text>
<text x="161.65" y="1045" font-size="12.8" text-anchor="middle" textLength="119.7" lengthAdjust="spacingAndGlyphs" fill="#1e1e1e" stroke="#1e1e1e" stroke-width="0.1">Overall survival (years)</text>
<text x="78.9" y="1003.3" font-size="9" textLength="44.2" lengthAdjust="spacingAndGlyphs" fill="#222">p = 0.00011</text>
<text x="66.8" y="1058.5" font-size="8.4" textLength="56.8" lengthAdjust="spacingAndGlyphs" fill="#1e1e1e">Number at risk</text>
<text x="60.5" y="1070.5" font-size="8.6" text-anchor="end" textLength="29.6" lengthAdjust="spacingAndGlyphs" fill="#1e1e1e">HP–CLL</text>
<text x="80.2" y="1070.5" font-size="8.6" text-anchor="middle" fill="#1e1e1e">180</text>
<text x="112.85" y="1070.5" font-size="8.6" text-anchor="middle" fill="#1e1e1e">128</text>
<text x="145.5" y="1070.5" font-size="8.6" text-anchor="middle" fill="#1e1e1e">64</text>
<text x="178.15" y="1070.5" font-size="8.6" text-anchor="middle" fill="#1e1e1e">29</text>
<text x="210.8" y="1070.5" font-size="8.6" text-anchor="middle" fill="#1e1e1e">12</text>
<text x="243.45" y="1070.5" font-size="8.6" text-anchor="middle" fill="#1e1e1e">2</text>
<text x="60.5" y="1083" font-size="8.6" text-anchor="end" textLength="25.6" lengthAdjust="spacingAndGlyphs" fill="#1e1e1e">IP–CLL</text>
<text x="80.2" y="1083" font-size="8.6" text-anchor="middle" fill="#1e1e1e">77</text>
<text x="112.85" y="1083" font-size="8.6" text-anchor="middle" fill="#1e1e1e">52</text>
<text x="145.5" y="1083" font-size="8.6" text-anchor="middle" fill="#1e1e1e">25</text>
<text x="178.15" y="1083" font-size="8.6" text-anchor="middle" fill="#1e1e1e">7</text>
<text x="210.8" y="1083" font-size="8.6" text-anchor="middle" fill="#1e1e1e">3</text>
<text x="243.45" y="1083" font-size="8.6" text-anchor="middle" fill="#1e1e1e">0</text>
<text x="60.5" y="1095.5" font-size="8.6" text-anchor="end" textLength="28.3" lengthAdjust="spacingAndGlyphs" fill="#1e1e1e">LP–CLL</text>
<text x="80.2" y="1095.5" font-size="8.6" text-anchor="middle" fill="#1e1e1e">141</text>
<text x="112.85" y="1095.5" font-size="8.6" text-anchor="middle" fill="#1e1e1e">79</text>
<text x="145.5" y="1095.5" font-size="8.6" text-anchor="middle" fill="#1e1e1e">33</text>
<text x="178.15" y="1095.5" font-size="8.6" text-anchor="middle" fill="#1e1e1e">8</text>
<text x="210.8" y="1095.5" font-size="8.6" text-anchor="middle" fill="#1e1e1e">2</text>
<text x="243.45" y="1095.5" font-size="8.6" text-anchor="middle" fill="#1e1e1e">1</text>
<path d="M66.8,1063.8 V1098.9 H251.3" fill="none" stroke="#111" stroke-width="1.6" stroke-linecap="square"/>
<polyline points="79.3,879.2 87.5,879.2 92.1,880.3 96.8,882.1 102.5,883.8 108.3,885.5 114.1,886.1 119.3,886.7 121.6,889 124.4,892.5 127.9,894.4 133.8,896.2 140,897.7 144.6,900.8 146.9,903.1 156.9,903.8 160,904.9 175.4,904.9 176.2,908 185.4,908 187.7,910.8 189.2,913.8 190.8,917.7 192.3,920.5 227.8,920.5 228.5,944.4 237.5,944.4 238.1,962.8 252,962.8" fill="none" stroke="#a3203a" stroke-width="1.5" stroke-linejoin="miter"/>
<path d="M80,877.1v4.2M79,879.2h2M82.4,877.1v4.2M81.4,879.2h2M84.8,877.1v4.2M83.8,879.2h2M87.2,877.1v4.2M86.2,879.2h2M89.6,877.6v4.2M88.6,879.7h2M92,878.18v4.2M91,880.28h2M95,879.31v4.2M94,881.41h2M98.2,880.42v4.2M97.2,882.52h2M101.4,881.37v4.2M100.4,883.47h2M104.6,882.32v4.2M103.6,884.42h2M107.8,883.25v4.2M106.8,885.35h2M111,883.68v4.2M110,885.78h2M114.2,884.01v4.2M113.2,886.11h2M117.4,884.38v4.2M116.4,886.48h2M123,888.65v4.2M122,890.75h2M126,891.27v4.2M125,893.37h2M129,892.64v4.2M128,894.74h2M132,893.55v4.2M131,895.65h2M135,894.39v4.2M134,896.49h2M138,895.12v4.2M137,897.22h2M141,896.27v4.2M140,898.37h2M144,898.3v4.2M143,900.4h2M148.5,901.11v4.2M147.5,903.21h2M150.8,901.27v4.2M149.8,903.37h2M156.9,901.7v4.2M155.9,903.8h2M160,902.8v4.2M159,904.9h2M163.1,902.8v4.2M162.1,904.9h2M165.4,902.8v4.2M164.4,904.9h2M167.7,902.8v4.2M166.7,904.9h2M170,902.8v4.2M169,904.9h2M172.3,902.8v4.2M171.3,904.9h2M174.6,902.8v4.2M173.6,904.9h2M182.3,905.9v4.2M181.3,908h2M186.2,906.87v4.2M185.2,908.97h2M196,918.4v4.2M195,920.5h2M203.5,918.4v4.2M202.5,920.5h2M211,918.4v4.2M210,920.5h2M218.5,918.4v4.2M217.5,920.5h2M226,918.4v4.2M225,920.5h2M229,942.3v4.2M228,944.4h2" stroke="#2b2b2b" stroke-width="1.15" fill="none"/>
<polyline points="79.3,879.8 88.7,881.5 93.3,884.4 96.8,885.5 106,886.1 110.6,887.8 116.4,891.3 120,891.5 124.6,893.1 127.7,898.5 130,903.1 131.5,908.5 139.2,908.5 140,912.3 141.5,915.1 159.2,915.1 159.7,925.1 185.8,925.1 186.2,940.5 234.7,940.5 236.4,942.2" fill="none" stroke="#e9b943" stroke-width="1.5" stroke-linejoin="miter"/>
<path d="M81,878.01v4.2M80,880.11h2M85,878.73v4.2M84,880.83h2M89,879.59v4.2M88,881.69h2M93,882.11v4.2M92,884.21h2M97,883.41v4.2M96,885.51h2M101,883.67v4.2M100,885.77h2M105,883.93v4.2M104,886.03h2M112,886.54v4.2M111,888.64h2M117,889.23v4.2M116,891.33h2M122,890.1v4.2M121,892.2h2M129,899v4.2M128,901.1h2M135,906.4v4.2M134,908.5h2M139.5,907.83v4.2M138.5,909.93h2M145.4,913v4.2M144.4,915.1h2M148.5,913v4.2M147.5,915.1h2M158.5,913v4.2M157.5,915.1h2M169.2,923v4.2M168.2,925.1h2M172.3,923v4.2M171.3,925.1h2M173.8,923v4.2M172.8,925.1h2M175.4,923v4.2M174.4,925.1h2M176.9,923v4.2M175.9,925.1h2M185.4,923v4.2M184.4,925.1h2M195.4,938.4v4.2M194.4,940.5h2M220,938.4v4.2M219,940.5h2M222,938.4v4.2M221,940.5h2M236.4,940.1v4.2M235.4,942.2h2" stroke="#2b2b2b" stroke-width="1.15" fill="none"/>
<polyline points="79.3,880.3 84.1,881.5 88.7,883.2 93.3,886.7 96.8,889 101.4,890.7 106,892.5 110.6,895.9 114.1,899.4 117.5,901.7 120,903.1 124.6,905.4 128.5,909.2 132.3,912.3 136.9,913.1 140,916.9 143.1,920 146.9,923.1 150,926.2 151.5,933.1 158.5,933.1 160.8,936.9 162.3,940.8 164.6,946.2 166.9,950 169.2,953.8 171.5,957.7 173.1,961.5 252,961.5" fill="none" stroke="#3e5a86" stroke-width="1.5" stroke-linejoin="miter"/>
<path d="M80,878.37v4.2M79,880.47h2M83.6,879.27v4.2M82.6,881.38h2M87.2,880.55v4.2M86.2,882.65h2M90.8,882.7v4.2M89.8,884.8h2M94.4,885.32v4.2M93.4,887.42h2M98,887.34v4.2M97,889.44h2M101.6,888.68v4.2M100.6,890.78h2M105.2,890.09v4.2M104.2,892.19h2M108.8,892.47v4.2M107.8,894.57h2M112.4,895.6v4.2M111.4,897.7h2M116,898.59v4.2M115,900.69h2M119.6,900.78v4.2M118.6,902.88h2M123.2,902.6v4.2M122.2,904.7h2M126.8,905.44v4.2M125.8,907.54h2M130.4,908.65v4.2M129.4,910.75h2M134,910.5v4.2M133,912.6h2M137.6,911.86v4.2M136.6,913.96h2M141.2,916v4.2M140.2,918.1h2M144.8,919.29v4.2M143.8,921.39h2M148.4,922.5v4.2M147.4,924.6h2M153,931v4.2M152,933.1h2M156,931v4.2M155,933.1h2M161,935.32v4.2M160,937.42h2M164,942.69v4.2M163,944.79h2M167,948.07v4.2M166,950.17h2M170,953.06v4.2M169,955.16h2M180,959.4v4.2M179,961.5h2M184.6,959.4v4.2M183.6,961.5h2M188.5,959.4v4.2M187.5,961.5h2" stroke="#2b2b2b" stroke-width="1.15" fill="none"/>
<text x="418" y="865.8" font-size="13.4" text-anchor="middle" textLength="43.6" lengthAdjust="spacingAndGlyphs" fill="#1e1e1e">IGHV-M</text>
<text transform="translate(294.3,941.25) rotate(-90)" font-size="13" text-anchor="middle" textLength="94.6" lengthAdjust="spacingAndGlyphs" fill="#1e1e1e">Percent surviving</text>
<path d="M328,874.9 V1008 H508" fill="none" stroke="#111" stroke-width="1.9" stroke-linejoin="miter" stroke-linecap="square"/>
<line x1="322.5" y1="1002" x2="328" y2="1002" stroke="#111" stroke-width="1.2"/>
<text x="316.8" y="1004.9" font-size="8.3" text-anchor="end" fill="#333">0</text>
<line x1="322.5" y1="971.62" x2="328" y2="971.62" stroke="#111" stroke-width="1.2"/>
<text x="316.8" y="974.52" font-size="8.3" text-anchor="end" fill="#333">25</text>
<line x1="322.5" y1="941.25" x2="328" y2="941.25" stroke="#111" stroke-width="1.2"/>
<text x="316.8" y="944.15" font-size="8.3" text-anchor="end" fill="#333">50</text>
<line x1="322.5" y1="910.88" x2="328" y2="910.88" stroke="#111" stroke-width="1.2"/>
<text x="316.8" y="913.77" font-size="8.3" text-anchor="end" fill="#333">75</text>
<line x1="322.5" y1="880.5" x2="328" y2="880.5" stroke="#111" stroke-width="1.2"/>
<text x="316.8" y="883.4" font-size="8.3" text-anchor="end" fill="#333">100</text>
<line x1="336" y1="1008" x2="336" y2="1013.2" stroke="#111" stroke-width="1.2"/>
<text x="336" y="1026" font-size="8.6" text-anchor="middle" fill="#333">0</text>
<line x1="368.7" y1="1008" x2="368.7" y2="1013.2" stroke="#111" stroke-width="1.2"/>
<text x="368.7" y="1026" font-size="8.6" text-anchor="middle" fill="#333">5</text>
<line x1="401.4" y1="1008" x2="401.4" y2="1013.2" stroke="#111" stroke-width="1.2"/>
<text x="401.4" y="1026" font-size="8.6" text-anchor="middle" fill="#333">10</text>
<line x1="434.1" y1="1008" x2="434.1" y2="1013.2" stroke="#111" stroke-width="1.2"/>
<text x="434.1" y="1026" font-size="8.6" text-anchor="middle" fill="#333">15</text>
<line x1="466.8" y1="1008" x2="466.8" y2="1013.2" stroke="#111" stroke-width="1.2"/>
<text x="466.8" y="1026" font-size="8.6" text-anchor="middle" fill="#333">20</text>
<line x1="499.5" y1="1008" x2="499.5" y2="1013.2" stroke="#111" stroke-width="1.2"/>
<text x="499.5" y="1026" font-size="8.6" text-anchor="middle" fill="#333">25</text>
<text x="418" y="1045" font-size="12.8" text-anchor="middle" textLength="119.7" lengthAdjust="spacingAndGlyphs" fill="#1e1e1e" stroke="#1e1e1e" stroke-width="0.1">Overall survival (years)</text>
<text x="334.7" y="1003.3" font-size="9" textLength="31.6" lengthAdjust="spacingAndGlyphs" fill="#222">p = 0.03</text>
<text x="322.8" y="1058.5" font-size="8.4" textLength="56.8" lengthAdjust="spacingAndGlyphs" fill="#1e1e1e">Number at risk</text>
<text x="316.5" y="1070.5" font-size="8.6" text-anchor="end" textLength="29.6" lengthAdjust="spacingAndGlyphs" fill="#1e1e1e">HP–CLL</text>
<text x="336" y="1070.5" font-size="8.6" text-anchor="middle" fill="#1e1e1e">220</text>
<text x="368.7" y="1070.5" font-size="8.6" text-anchor="middle" fill="#1e1e1e">146</text>
<text x="401.4" y="1070.5" font-size="8.6" text-anchor="middle" fill="#1e1e1e">78</text>
<text x="434.1" y="1070.5" font-size="8.6" text-anchor="middle" fill="#1e1e1e">36</text>
<text x="466.8" y="1070.5" font-size="8.6" text-anchor="middle" fill="#1e1e1e">16</text>
<text x="499.5" y="1070.5" font-size="8.6" text-anchor="middle" fill="#1e1e1e">3</text>
<text x="316.5" y="1083" font-size="8.6" text-anchor="end" textLength="25.6" lengthAdjust="spacingAndGlyphs" fill="#1e1e1e">IP–CLL</text>
<text x="336" y="1083" font-size="8.6" text-anchor="middle" fill="#1e1e1e">99</text>
<text x="368.7" y="1083" font-size="8.6" text-anchor="middle" fill="#1e1e1e">60</text>
<text x="401.4" y="1083" font-size="8.6" text-anchor="middle" fill="#1e1e1e">31</text>
<text x="434.1" y="1083" font-size="8.6" text-anchor="middle" fill="#1e1e1e">8</text>
<text x="466.8" y="1083" font-size="8.6" text-anchor="middle" fill="#1e1e1e">3</text>
<text x="499.5" y="1083" font-size="8.6" text-anchor="middle" fill="#1e1e1e">0</text>
<text x="316.5" y="1095.5" font-size="8.6" text-anchor="end" textLength="28.3" lengthAdjust="spacingAndGlyphs" fill="#1e1e1e">LP–CLL</text>
<text x="336" y="1095.5" font-size="8.6" text-anchor="middle" fill="#1e1e1e">20</text>
<text x="368.7" y="1095.5" font-size="8.6" text-anchor="middle" fill="#1e1e1e">12</text>
<text x="401.4" y="1095.5" font-size="8.6" text-anchor="middle" fill="#1e1e1e">9</text>
<text x="434.1" y="1095.5" font-size="8.6" text-anchor="middle" fill="#1e1e1e">1</text>
<text x="466.8" y="1095.5" font-size="8.6" text-anchor="middle" fill="#1e1e1e">0</text>
<text x="499.5" y="1095.5" font-size="8.6" text-anchor="middle" fill="#1e1e1e">0</text>
<path d="M322.8,1063.8 V1098.9 H508" fill="none" stroke="#111" stroke-width="1.6" stroke-linecap="square"/>
<polyline points="336.1,879.9 347.3,879.9 354.2,881.7 361.2,883.4 369.8,885.1 375,886 378.5,888.6 381.9,890.3 385.4,892 390.6,893.4 394.9,893.8 398.4,897.2 402.7,900.7 413.1,900.7 414.8,902.4 418,902.9 428.4,904.6 435.3,906.3 438.8,911.5 444,916.7 447.4,923.7 476.8,923.7 477.5,930.6 483.8,931.6 484.5,946.2 493.5,946.2 494.1,960 508,960" fill="none" stroke="#a3203a" stroke-width="1.5" stroke-linejoin="miter"/>
<path d="M335.5,877.8v4.2M334.5,879.9h2M337.9,877.8v4.2M336.9,879.9h2M340.3,877.8v4.2M339.3,879.9h2M342.7,877.8v4.2M341.7,879.9h2M345.1,877.8v4.2M344.1,879.9h2M347.5,877.85v4.2M346.5,879.95h2M349.9,878.48v4.2M348.9,880.58h2M352.3,879.1v4.2M351.3,881.2h2M354.7,879.72v4.2M353.7,881.82h2M357.1,880.3v4.2M356.1,882.4h2M359.5,880.89v4.2M358.5,882.99h2M361.9,881.44v4.2M360.9,883.54h2M364.3,881.91v4.2M363.3,884.01h2M366.7,882.39v4.2M365.7,884.49h2M369.1,882.86v4.2M368.1,884.96h2M371.5,883.29v4.2M370.5,885.39h2M373.9,883.71v4.2M372.9,885.81h2M376.3,884.87v4.2M375.3,886.97h2M378.7,886.6v4.2M377.7,888.7h2M381.1,887.8v4.2M380.1,889.9h2M383.5,888.98v4.2M382.5,891.08h2M385.9,890.03v4.2M384.9,892.13h2M388.3,890.68v4.2M387.3,892.78h2M390.7,891.31v4.2M389.7,893.41h2M393.1,891.53v4.2M392.1,893.63h2M395.5,892.28v4.2M394.5,894.38h2M397.9,894.61v4.2M396.9,896.71h2M400.3,896.65v4.2M399.3,898.75h2M402.7,898.6v4.2M401.7,900.7h2M405.1,898.6v4.2M404.1,900.7h2M407.5,898.6v4.2M406.5,900.7h2M409.9,898.6v4.2M408.9,900.7h2M412.3,898.6v4.2M411.3,900.7h2M414.7,900.2v4.2M413.7,902.3h2M417.1,900.66v4.2M416.1,902.76h2M419.5,901.05v4.2M418.5,903.15h2M425,901.94v4.2M424,904.04h2M428,902.43v4.2M427,904.53h2M431,903.14v4.2M430,905.24h2M434,903.88v4.2M433,905.98h2M437,906.73v4.2M436,908.83h2M440,910.6v4.2M439,912.7h2M443,913.6v4.2M442,915.7h2M446,918.72v4.2M445,920.82h2M427,902.27v4.2M426,904.37h2M432,903.39v4.2M431,905.49h2M450,921.6v4.2M449,923.7h2M460,921.6v4.2M459,923.7h2M463,921.6v4.2M462,923.7h2M468,921.6v4.2M467,923.7h2M476,921.6v4.2M475,923.7h2M484,933.67v4.2M483,935.77h2M485,944.1v4.2M484,946.2h2M490,944.1v4.2M489,946.2h2M492,944.1v4.2M491,946.2h2" stroke="#2b2b2b" stroke-width="1.15" fill="none"/>
<polyline points="336.1,879.9 349,880.3 356,882.5 362.9,885.1 369.8,886.5 375,888.6 380.2,889.4 381.9,892.9 385.4,895.5 388.8,898.1 392.3,899.8 394.9,902.4 395.8,904.2 398.4,906.7 406.1,906.7 407,909.3 408.7,912 409.6,917.1 414.8,917.1 415.3,929.5 440.5,929.5 441.5,953.1 492.4,953.1" fill="none" stroke="#e9b943" stroke-width="1.5" stroke-linejoin="miter"/>
<path d="M335.5,877.8v4.2M334.5,879.9h2M338.5,877.87v4.2M337.5,879.97h2M341.5,877.97v4.2M340.5,880.07h2M344.5,878.06v4.2M343.5,880.16h2M347.5,878.15v4.2M346.5,880.25h2M350.5,878.67v4.2M349.5,880.77h2M353.5,879.61v4.2M352.5,881.71h2M356.5,880.59v4.2M355.5,882.69h2M359.5,881.72v4.2M358.5,883.82h2M362.5,882.85v4.2M361.5,884.95h2M365.5,883.53v4.2M364.5,885.63h2M368.5,884.14v4.2M367.5,886.24h2M371.5,885.09v4.2M370.5,887.19h2M374.5,886.3v4.2M373.5,888.4h2M377.5,886.88v4.2M376.5,888.98h2M380.5,887.92v4.2M379.5,890.02h2M383.5,891.99v4.2M382.5,894.09h2M386.5,894.24v4.2M385.5,896.34h2M389.5,896.34v4.2M388.5,898.44h2M392.5,897.9v4.2M391.5,900h2M395.5,901.5v4.2M394.5,903.6h2M398.5,904.6v4.2M397.5,906.7h2M401.5,904.6v4.2M400.5,906.7h2M404.5,904.6v4.2M403.5,906.7h2M407.5,907.99v4.2M406.5,910.09h2M412,915v4.2M411,917.1h2M413,915v4.2M412,917.1h2M415,919.96v4.2M414,922.06h2M420,927.4v4.2M419,929.5h2M423,927.4v4.2M422,929.5h2M426,927.4v4.2M425,929.5h2M430,927.4v4.2M429,929.5h2M455,951v4.2M454,953.1h2M468,951v4.2M467,953.1h2M471,951v4.2M470,953.1h2M492.4,951v4.2M491.4,953.1h2" stroke="#2b2b2b" stroke-width="1.15" fill="none"/>
<polyline points="336.1,879.9 340.4,879.9 340.4,887.7 350.8,887.7 351.1,895.5 394,895.5 394.9,905 396.6,905.9 405.3,905.9 405.8,924.9 408.7,926.7 409.3,938.8 435.3,938.8" fill="none" stroke="#3e5a86" stroke-width="1.5" stroke-linejoin="miter"/>
<path d="M336,877.8v4.2M335,879.9h2M337,877.8v4.2M336,879.9h2M350.8,885.6v4.2M349.8,887.7h2M358,893.4v4.2M357,895.5h2M363,893.4v4.2M362,895.5h2M374,893.4v4.2M373,895.5h2M393,893.4v4.2M392,895.5h2M405,903.8v4.2M404,905.9h2M409,930.65v4.2M408,932.75h2M416,936.7v4.2M415,938.8h2M425,936.7v4.2M424,938.8h2M435.3,936.7v4.2M434.3,938.8h2" stroke="#2b2b2b" stroke-width="1.15" fill="none"/>
<text x="199.4" y="57.5" font-size="8.6" textLength="47.1" lengthAdjust="spacingAndGlyphs" fill="#1e1e1e">CLL Subtype</text>
<line x1="199.2" y1="67.3" x2="210.3" y2="67.3" stroke="#a3203a" stroke-width="1.3"/>
<line x1="204.7" y1="65.1" x2="204.7" y2="69.5" stroke="#333" stroke-width="0.9"/>
<text x="214.9" y="70.3" font-size="8.6" textLength="30.3" lengthAdjust="spacingAndGlyphs" fill="#1e1e1e">HP–CLL</text>
<line x1="199.2" y1="79.7" x2="210.3" y2="79.7" stroke="#e9b943" stroke-width="1.3"/>
<line x1="204.7" y1="77.5" x2="204.7" y2="81.9" stroke="#333" stroke-width="0.9"/>
<text x="214.9" y="82.7" font-size="8.6" textLength="26.5" lengthAdjust="spacingAndGlyphs" fill="#1e1e1e">IP–CLL</text>
<line x1="199.2" y1="92.1" x2="210.3" y2="92.1" stroke="#3e5a86" stroke-width="1.3"/>
<line x1="204.7" y1="89.9" x2="204.7" y2="94.3" stroke="#333" stroke-width="0.9"/>
<text x="214.9" y="95.1" font-size="8.6" textLength="28.6" lengthAdjust="spacingAndGlyphs" fill="#1e1e1e">LP–CLL</text>
<text x="199.4" y="611.75" font-size="8.6" textLength="47.1" lengthAdjust="spacingAndGlyphs" fill="#1e1e1e">CLL Subtype</text>
<line x1="199.2" y1="621.55" x2="210.3" y2="621.55" stroke="#a3203a" stroke-width="1.3"/>
<line x1="204.7" y1="619.35" x2="204.7" y2="623.75" stroke="#333" stroke-width="0.9"/>
<text x="214.9" y="624.55" font-size="8.6" textLength="30.3" lengthAdjust="spacingAndGlyphs" fill="#1e1e1e">HP–CLL</text>
<line x1="199.2" y1="633.95" x2="210.3" y2="633.95" stroke="#e9b943" stroke-width="1.3"/>
<line x1="204.7" y1="631.75" x2="204.7" y2="636.15" stroke="#333" stroke-width="0.9"/>
<text x="214.9" y="636.95" font-size="8.6" textLength="26.5" lengthAdjust="spacingAndGlyphs" fill="#1e1e1e">IP–CLL</text>
<line x1="199.2" y1="646.35" x2="210.3" y2="646.35" stroke="#3e5a86" stroke-width="1.3"/>
<line x1="204.7" y1="644.15" x2="204.7" y2="648.55" stroke="#333" stroke-width="0.9"/>
<text x="214.9" y="649.35" font-size="8.6" textLength="28.6" lengthAdjust="spacingAndGlyphs" fill="#1e1e1e">LP–CLL</text>
</svg></body></html>
